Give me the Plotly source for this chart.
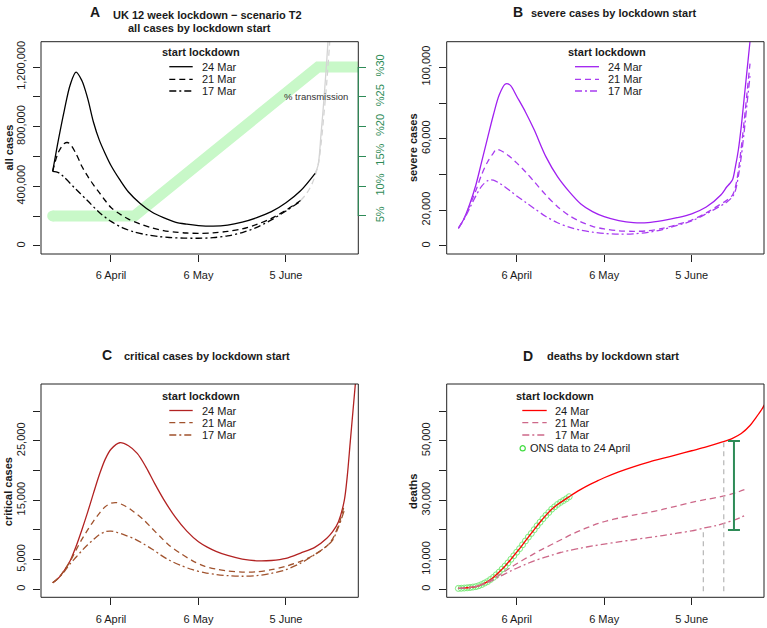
import pandas as pd
import plotly.graph_objects as go

W, H = 767, 628
FONTE = "Liberation Sans, Arial, sans-serif"
COR_TEXTO = "#1a1a1a"
COR_CAIXA = "#222222"
DIA_ZERO = pd.Timestamp("2020-04-06")  # dia 0 = 6 April

# eixo x comum (dias a partir de 6 April)
x_faixa = [-24.0, 84.8]
x_ticks = [0, 30, 60]
x_rotulos = ["6 April", "6 May", "5 June"]

legenda_titulo = "start lockdown"
legenda_nomes = ["24 Mar", "21 Mar", "17 Mar"]

# ---------- A: all cases ----------
a_dias_24 = [-20, -18, -16, -14, -12, -10, -8, -6, -4, -2, 0, 3, 6, 10, 14, 18, 22, 26, 30, 35, 40, 45, 50, 55, 60, 65, 70]
a_24 = [500e3, 715e3, 910e3, 1080e3, 1166e3, 1110e3, 990e3, 830e3, 710e3, 620e3, 540e3, 445e3, 362e3, 285e3, 228e3, 190e3, 160e3, 146e3, 137e3, 133e3, 140e3, 160e3, 190e3, 230e3, 290e3, 370e3, 487e3]
a_dias_21 = [-20, -18, -16, -15, -14, -12, -10, -8, -6, -4, -2, 0, 3, 6, 10, 14, 18, 22, 26, 30, 35, 40, 45, 50, 55, 60, 65]
a_21 = [500e3, 630e3, 688e3, 694e3, 683e3, 620e3, 535e3, 468e3, 410e3, 358e3, 305e3, 258e3, 215e3, 180e3, 148e3, 122e3, 103e3, 93e3, 87e3, 85e3, 88e3, 98e3, 115e3, 145e3, 185e3, 240e3, 305e3]
a_dias_17 = [-20, -18, -16, -12, -8, -4, 0, 4, 8, 12, 16, 20, 25, 30, 35, 40, 45, 50, 55, 60, 65]
a_17 = [500e3, 492e3, 460e3, 380e3, 303e3, 225e3, 165e3, 122e3, 94e3, 76e3, 64e3, 57e3, 53e3, 52e3, 56e3, 68e3, 90e3, 125e3, 175e3, 235e3, 300e3]
# continuação a cinzento
a_cauda_dias_24 = [70, 71, 72, 73, 74, 75]
a_cauda_24 = [487e3, 540e3, 745e3, 980e3, 1250e3, 1550e3]
a_cauda_dias_21 = [65, 67, 69, 71, 72, 73, 74, 75, 76]
a_cauda_21 = [305e3, 350e3, 420e3, 540e3, 680e3, 880e3, 1100e3, 1370e3, 1700e3]
# % transmissão
trans_dias = [-20, 8, 71, 90]
trans_pct = [5, 5, 30, 30]
trans_ticks = [5, 10, 15, 20, 25, 30]
trans_rotulos = ["5%", "10%", "15%", "%20", "%25", "%30"]
a_ticks = [0, 200e3, 400e3, 600e3, 800e3, 1000e3, 1200e3]
a_rotulos = ["0", "", "400,000", "", "800,000", "", "1,200,000"]

# ---------- B: severe cases ----------
b_dias_24 = [-20, -18, -16, -14, -12, -10, -8, -6, -4, -3, -2, 0, 3, 6, 10, 14, 18, 22, 26, 30, 35, 40, 45, 50, 55, 60, 65, 70, 72, 73, 74, 75, 76, 77, 78, 79, 80, 81]
b_24 = [9.9e3, 15.5e3, 23.9e3, 34.1e3, 47.2e3, 60.3e3, 73.3e3, 84.5e3, 90.5e3, 90.7e3, 89.6e3, 83.8e3, 75e3, 65e3, 50e3, 38.8e3, 30.4e3, 23.5e3, 19.2e3, 16.4e3, 14.2e3, 13.1e3, 13.1e3, 14.2e3, 15.8e3, 18e3, 21.8e3, 28.5e3, 33e3, 34.8e3, 37e3, 44.4e3, 53.7e3, 66.8e3, 82.7e3, 98.5e3, 114.4e3, 130e3]
b_dias_21 = [-20, -18, -16, -14, -12, -10, -8, -7, -6, -4, -2, 0, 3, 6, 10, 14, 18, 22, 26, 30, 35, 40, 45, 50, 55, 60, 65, 70, 72, 74, 75, 76, 77, 78, 79, 80]
b_21 = [9.9e3, 15.5e3, 23e3, 31e3, 40e3, 47e3, 52e3, 54e3, 53.8e3, 52e3, 49.5e3, 46.5e3, 41.5e3, 36e3, 28.5e3, 22e3, 17e3, 13.5e3, 11e3, 9.5e3, 8.5e3, 8.2e3, 8.5e3, 9.8e3, 12e3, 14.5e3, 18.5e3, 23.5e3, 25.5e3, 28.5e3, 33e3, 42e3, 55e3, 70e3, 86e3, 102e3]
b_dias_17 = [-20, -18, -16, -14, -12, -10, -9, -8, -6, -4, -2, 0, 3, 6, 10, 14, 18, 22, 26, 30, 35, 40, 45, 50, 55, 60, 65, 70, 72, 74, 75, 76, 77, 78, 79, 80]
b_17 = [9.9e3, 15e3, 21.5e3, 28e3, 33.5e3, 36.5e3, 37e3, 36.8e3, 35.2e3, 33e3, 30.5e3, 28e3, 24.5e3, 21e3, 16.5e3, 13e3, 10.5e3, 8.8e3, 7.7e3, 7e3, 6.6e3, 6.8e3, 7.6e3, 9.2e3, 11.5e3, 14e3, 18e3, 22.5e3, 24.5e3, 27.5e3, 31e3, 39e3, 50e3, 64e3, 80e3, 95e3]
b_ticks = [0, 20e3, 40e3, 60e3, 80e3, 100e3]
b_rotulos = ["0", "20,000", "", "60,000", "", "100,000"]

# ---------- C: critical cases ----------
c_dias_24 = [-20, -18, -16, -14, -12, -10, -8, -6, -4, -2, 0, 3, 6, 9, 12, 15, 18, 22, 26, 30, 33, 36, 40, 45, 50, 55, 60, 65, 70, 74, 76, 78, 80, 81, 82, 83, 84]
c_24 = [1.1e3, 1.9e3, 3.2e3, 4.8e3, 7.2e3, 10e3, 13e3, 16.2e3, 19.3e3, 21.9e3, 23.6e3, 24.7e3, 24.2e3, 22.9e3, 20.6e3, 17.8e3, 15.2e3, 12.2e3, 9.8e3, 8e3, 7.1e3, 6.4e3, 5.7e3, 5.1e3, 4.8e3, 4.85e3, 5.2e3, 6.1e3, 7.1e3, 8.6e3, 9.7e3, 11.4e3, 15e3, 19e3, 24.6e3, 30.2e3, 35.8e3]
c_dias_21 = [-20, -18, -16, -14, -12, -10, -8, -6, -4, -2, 0, 2, 5, 8, 11, 14, 17, 20, 24, 28, 32, 36, 40, 45, 50, 55, 60, 65, 70, 74, 76, 78, 79, 80]
c_21 = [1.1e3, 1.9e3, 3.2e3, 4.7e3, 6.6e3, 8.4e3, 10e3, 11.5e3, 12.8e3, 13.9e3, 14.5e3, 14.6e3, 14e3, 13e3, 11.8e3, 10.3e3, 8.8e3, 7.4e3, 6e3, 4.8e3, 3.9e3, 3.4e3, 3.1e3, 2.9e3, 2.95e3, 3.3e3, 3.9e3, 4.7e3, 5.9e3, 7.3e3, 8.5e3, 10.8e3, 12.3e3, 14.2e3]
c_dias_17 = [-20, -18, -16, -14, -12, -10, -8, -6, -4, -2, 0, 2, 5, 8, 11, 14, 17, 20, 24, 28, 32, 36, 40, 45, 50, 55, 60, 65, 70, 74, 76, 78, 80]
c_17 = [1.1e3, 1.9e3, 3e3, 4.3e3, 5.4e3, 6.5e3, 7.5e3, 8.4e3, 9.2e3, 9.7e3, 9.8e3, 9.6e3, 9.1e3, 8.5e3, 7.7e3, 6.8e3, 5.8e3, 4.9e3, 4e3, 3.3e3, 2.8e3, 2.5e3, 2.3e3, 2.2e3, 2.3e3, 2.7e3, 3.3e3, 4.4e3, 5.9e3, 7.3e3, 8.3e3, 10.5e3, 13.3e3]
c_ticks = [0, 5e3, 10e3, 15e3, 20e3, 25e3, 30e3]
c_rotulos = ["0", "5,000", "", "15,000", "", "25,000", ""]

# ---------- D: deaths ----------
d_dias_24 = [-20, -18, -16, -14, -12, -10, -8, -6, -4, -2, 0, 2, 4, 6, 8, 10, 12, 14, 16, 18, 20, 22, 25, 28, 30, 35, 40, 45, 50, 55, 60, 65, 70, 74, 77, 80, 82, 84, 86]
d_24 = [300, 400, 600, 900, 1.6e3, 2.6e3, 4e3, 5.8e3, 7.8e3, 10.1e3, 12.5e3, 15e3, 17.6e3, 20.1e3, 22.6e3, 24.9e3, 27e3, 28.6e3, 29.9e3, 31.2e3, 32.5e3, 33.7e3, 35.3e3, 36.7e3, 37.6e3, 39.6e3, 41.3e3, 42.8e3, 44.1e3, 45.4e3, 46.7e3, 48e3, 49.5e3, 50.9e3, 52.5e3, 55.2e3, 57.8e3, 60.6e3, 64e3]
d_dias_21 = [-20, -16, -12, -10, -8, -6, -4, -2, 0, 2, 4, 6, 8, 10, 13, 16, 19, 22, 25, 28, 31, 35, 40, 45, 50, 55, 60, 65, 70, 75, 79]
d_21 = [300, 600, 1.6e3, 2.5e3, 3.6e3, 4.8e3, 6.1e3, 7.4e3, 8.6e3, 9.8e3, 10.9e3, 12e3, 13.1e3, 14.1e3, 15.6e3, 17.1e3, 18.6e3, 19.9e3, 21.1e3, 22.2e3, 23.1e3, 24e3, 25e3, 25.9e3, 26.9e3, 28.1e3, 29.3e3, 30.3e3, 31.2e3, 32.5e3, 33.9e3]
d_dias_17 = [-20, -16, -12, -10, -8, -6, -4, -2, 0, 3, 6, 9, 12, 15, 18, 22, 26, 30, 35, 40, 45, 50, 55, 60, 64, 68, 71, 75, 79]
d_17 = [300, 600, 1.5e3, 2.3e3, 3.2e3, 4.2e3, 5.2e3, 6.2e3, 7.1e3, 8.4e3, 9.6e3, 10.6e3, 11.5e3, 12.4e3, 13.1e3, 13.9e3, 14.6e3, 15.2e3, 16e3, 16.7e3, 17.4e3, 18.1e3, 18.9e3, 19.7e3, 20.6e3, 21.4e3, 22.2e3, 23.5e3, 25.2e3]
# ONS: um valor por dia, de 17 Mar a 24 April
ons_inicio = "2020-03-17"
ons_obitos = [300, 350, 420, 500, 600, 750, 900, 1200, 1600, 2100, 2600, 3300, 4000, 4900, 5800, 6800, 7800, 8900, 10100, 11300,
              12500, 13700, 15000, 16300, 17600, 18800, 20100, 21400, 22600, 23800, 24900, 25900, 27000, 27800, 28600, 29300,
              29900, 30500, 31200]
vlinha_dias = [64, 71]
vlinha_topo = [20.6e3, 49.9e3]
vlinha_base = -700
erro_dia = 74.5
erro_baixo, erro_alto = 20e3, 50e3
d_ticks = [0, 10e3, 20e3, 30e3, 40e3, 50e3, 60e3]
d_rotulos = ["0", "10,000", "", "30,000", "", "50,000", ""]

TRACOS = ["solid", "6px,4px", "7px,3px,2px,3px"]
CORES_A = ["#000000", "#000000", "#000000"]
CORES_B = ["#A020F0", "#A83CF0", "#A83CF0"]
CORES_C = ["#B22222", "#A0522D", "#A0522D"]
CORES_D = ["#FF0000", "#CD6889", "#CD6889"]
VERDE_FAIXA = "#C8F8C8"
VERDE_EIXO = "#2E8B57"
CINZA_CAUDA = "#D4D4D4"


def datas(dias):
    return DIA_ZERO + pd.to_timedelta(pd.Series(dias, dtype=float), unit="D")


def px(x):
    return x / W


def py(y):
    return 1 - y / H


def curva(fig, dias, valores, cor, traco, xa, ya, largura=1.3):
    fig.add_trace(go.Scatter(
        x=datas(dias), y=valores, mode="lines", xaxis=xa, yaxis=ya, hoverinfo="skip",
        line=dict(color=cor, width=largura, dash=traco, shape="spline", smoothing=0.9),
    ))


def eixo_x(dominio, ancora):
    return dict(
        domain=dominio, anchor=ancora, type="date",
        range=[str(t) for t in datas(x_faixa)],
        tickmode="array", tickvals=[str(t) for t in datas(x_ticks)], ticktext=x_rotulos,
        ticks="outside", ticklen=7, tickwidth=1, tickcolor=COR_CAIXA,
        showgrid=False, zeroline=False, showline=False, ticklabelstandoff=4,
        tickfont=dict(family=FONTE, size=11, color=COR_TEXTO),
    )


def eixo_y(dominio, ancora, faixa, vals, textos, lado="left", cor=COR_CAIXA):
    return dict(
        domain=dominio, anchor=ancora, range=faixa, side=lado,
        tickmode="array", tickvals=vals, ticktext=textos, tickangle=-90,
        ticks="outside", ticklen=7, tickwidth=1, tickcolor=cor,
        showgrid=False, zeroline=False, showline=False, ticklabelstandoff=4,
        tickfont=dict(family=FONTE, size=11, color=cor if cor != COR_CAIXA else COR_TEXTO),
    )


def texto(fig, x, y, t, tam=11, negrito=False, angulo=0, ancora="center", cor=COR_TEXTO):
    fig.add_annotation(
        x=px(x), y=py(y), xref="paper", yref="paper", showarrow=False,
        text=f"<b>{t}</b>" if negrito else t, textangle=angulo,
        xanchor=ancora, yanchor="middle", font=dict(family=FONTE, size=tam, color=cor),
    )


def legenda(fig, titulo_x, titulo_y, x0, x1, xt, linhas_y, cores):
    texto(fig, titulo_x, titulo_y, legenda_titulo, negrito=True)
    for nome, cor, traco, y in zip(legenda_nomes, cores, TRACOS, linhas_y):
        fig.add_shape(type="line", xref="paper", yref="paper", x0=px(x0), x1=px(x1), y0=py(y), y1=py(y),
                      line=dict(color=cor, width=1.3, dash=traco))
        texto(fig, xt, y, nome, ancora="left")


fig = go.Figure()

# A: faixa de transmissão por baixo das curvas
fig.add_trace(go.Scatter(x=datas(trans_dias), y=trans_pct, mode="lines", xaxis="x", yaxis="y", hoverinfo="skip",
                         line=dict(color=VERDE_FAIXA, width=11)))
fig.add_trace(go.Scatter(x=datas(trans_dias[:1]), y=trans_pct[:1], mode="markers", xaxis="x", yaxis="y", hoverinfo="skip",
                         marker=dict(size=11, color=VERDE_FAIXA)))
curva(fig, a_cauda_dias_24, a_cauda_24, CINZA_CAUDA, TRACOS[0], "x", "y5")
curva(fig, a_cauda_dias_21, a_cauda_21, CINZA_CAUDA, TRACOS[1], "x", "y5")
for dias, vals, cor, traco in zip([a_dias_24, a_dias_21, a_dias_17], [a_24, a_21, a_17], CORES_A, TRACOS):
    curva(fig, dias, vals, cor, traco, "x", "y5")

for dias, vals, cor, traco in zip([b_dias_24, b_dias_21, b_dias_17], [b_24, b_21, b_17], CORES_B, TRACOS):
    curva(fig, dias, vals, cor, traco, "x2", "y2")

for dias, vals, cor, traco in zip([c_dias_24, c_dias_21, c_dias_17], [c_24, c_21, c_17], CORES_C, TRACOS):
    curva(fig, dias, vals, cor, traco, "x3", "y3")

# D
fig.add_trace(go.Scatter(
    x=pd.date_range(ons_inicio, periods=len(ons_obitos), freq="D"), y=ons_obitos, mode="markers",
    xaxis="x4", yaxis="y4", hoverinfo="skip",
    marker=dict(symbol="circle-open", size=6, color="#7DEB7D", line=dict(width=1)),
))
for dias, vals, cor, traco in zip([d_dias_24, d_dias_21, d_dias_17], [d_24, d_21, d_17], CORES_D, TRACOS):
    curva(fig, dias, vals, cor, traco, "x4", "y4")
for dia, topo in zip(vlinha_dias, vlinha_topo):
    fig.add_trace(go.Scatter(x=datas([dia, dia]), y=[vlinha_base, topo], mode="lines", xaxis="x4", yaxis="y4",
                             hoverinfo="skip", line=dict(color="#BBBBBB", width=1.3, dash="5px,4px")))
fig.add_trace(go.Scatter(
    x=datas([erro_dia]), y=[(erro_baixo + erro_alto) / 2], mode="markers", xaxis="x4", yaxis="y4", hoverinfo="skip",
    marker=dict(size=1, color="rgba(0,0,0,0)"),
    error_y=dict(type="data", symmetric=False, array=[(erro_alto - erro_baixo) / 2],
                 arrayminus=[(erro_alto - erro_baixo) / 2], color=VERDE_EIXO, thickness=2, width=6),
))

col_esq = [px(41), px(358.3)]
col_dir = [px(446.7), px(764)]
lin_sup = [py(254), py(41.7)]
lin_inf = [py(597.3), py(384)]

fig.update_layout(
    width=W, height=H, margin=dict(l=0, r=0, t=0, b=0),
    paper_bgcolor="white", plot_bgcolor="white", showlegend=False,
    font=dict(family=FONTE, color=COR_TEXTO),
    xaxis=eixo_x(col_esq, "y"),
    yaxis=eixo_y(lin_sup, "x", [-1.39, 34.25], trans_ticks, trans_rotulos, lado="right", cor=VERDE_EIXO),
    yaxis5=dict(eixo_y(lin_sup, "x", [-53.7e3, 1370e3], a_ticks, a_rotulos), overlaying="y"),
    xaxis2=eixo_x(col_dir, "y2"),
    yaxis2=eixo_y(lin_sup, "x2", [-4.5e3, 114.3e3], b_ticks, b_rotulos),
    xaxis3=eixo_x(col_esq, "y3"),
    yaxis3=eixo_y(lin_inf, "x3", [-1.35e3, 34.6e3], c_ticks, c_rotulos),
    xaxis4=eixo_x(col_dir, "y4"),
    yaxis4=eixo_y(lin_inf, "x4", [-2.7e3, 69.2e3], d_ticks, d_rotulos),
)

# caixas dos gráficos
for xa, ya in [("x", "y"), ("x2", "y2"), ("x3", "y3"), ("x4", "y4")]:
    fig.add_shape(type="rect", xref=f"{xa} domain", yref=f"{ya} domain", x0=0, x1=1, y0=0, y1=1,
                  line=dict(color=COR_CAIXA, width=1), layer="above")
# linha verde do eixo de transmissão
fig.add_shape(type="line", xref="x domain", yref="y", x0=1, x1=1, y0=trans_ticks[0], y1=trans_ticks[-1],
              line=dict(color=VERDE_EIXO, width=1.2))

# títulos
texto(fig, 95.3, 12.3, "A", tam=14, negrito=True)
texto(fig, 207.3, 14.7, "UK 12 week lockdown \u2212 scenario T2", negrito=True)
texto(fig, 199.7, 27.7, "all cases by lockdown start", negrito=True)
texto(fig, 518, 11.7, "B", tam=14, negrito=True)
texto(fig, 613.3, 13.3, "severe cases by lockdown start", negrito=True)
texto(fig, 107.3, 355, "C", tam=14, negrito=True)
texto(fig, 207.3, 356, "critical cases by lockdown start", negrito=True)
texto(fig, 528.3, 355.7, "D", tam=14, negrito=True)
texto(fig, 613, 356, "deaths by lockdown start", negrito=True)

# títulos dos eixos y
texto(fig, 8, 147.5, "all cases", negrito=True, angulo=-90)
texto(fig, 412.5, 147.5, "severe cases", negrito=True, angulo=-90)
texto(fig, 7.5, 491.7, "critical cases", negrito=True, angulo=-90)
texto(fig, 412.5, 491.5, "deaths", negrito=True, angulo=-90)
texto(fig, 316, 96.7, "% transmission", tam=9.5, cor="#333333")

# legendas
legenda(fig, 201, 52.3, 169.3, 192.7, 200, [66.7, 79.3, 91], CORES_A)
legenda(fig, 607, 52.3, 575, 599, 605.7, [66.7, 79.3, 91], CORES_B)
legenda(fig, 201, 396, 169.3, 192.7, 200, [410.5, 422.7, 435], CORES_C)
legenda(fig, 554.5, 396, 522.3, 546.7, 553.3, [410.5, 422.7, 435], CORES_D)
fig.add_shape(type="circle", xref="paper", yref="paper", xsizemode="pixel", ysizemode="pixel",
              xanchor=px(522.7), yanchor=py(448.3), x0=-2.6, x1=2.6, y0=-2.6, y1=2.6,
              line=dict(color="#44DD44", width=1.2))
texto(fig, 527.5, 448.3, "ONS data to 24 April", ancora="left")

# a página tem margem de 8px por defeito; tirá-la para o gráfico ocupar a janela toda
fig.write_html("out.html", config={"displayModeBar": False},
               post_script="document.body.style.margin = '0';")
